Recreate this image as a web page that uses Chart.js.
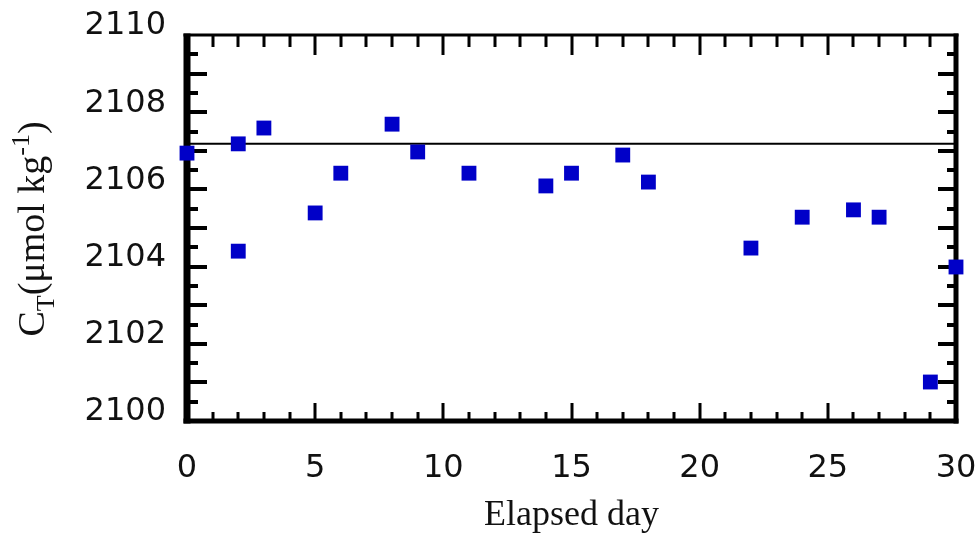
<!DOCTYPE html>
<html>
<head>
<meta charset="utf-8">
<script src="https://cdn.jsdelivr.net/npm/chart.js@4/dist/chart.umd.min.js"></script>
<style>
  html, body { margin: 0; padding: 0; background: #fff; }
  #wrap { width: 977px; height: 540px; }
</style>
</head>
<body>
<div id="wrap"><canvas id="c" width="977" height="540"></canvas></div>
<script>
// Total dissolved inorganic carbon over the incubation period
const days = [0, 2, 2, 3, 5, 6, 8, 9, 11, 14, 15, 17, 18, 22, 24, 26, 27, 29, 30];
const ctValues = [2106.94, 2107.18, 2104.40, 2107.59, 2105.39, 2106.42, 2107.69, 2106.97, 2106.42,
                  2106.09, 2106.42, 2106.89, 2106.19, 2104.48, 2105.28, 2105.47, 2105.28, 2101.01, 2103.99];
const meanCt = 2107.18;
const dayRange = [0, 30];
const ctRange = [2100, 2110];

// Boxed frame with inward major/minor tick marks on all four sides
const framePlugin = {
  id: 'frame',
  beforeDatasetsDraw(chart) {
    const { ctx, chartArea: a, scales: { x, y } } = chart;
    ctx.save();
    ctx.fillStyle = '#000';
    // frame sides
    ctx.fillRect(a.left - 3.5, a.top - 1.5, 7, a.bottom - a.top + 4);
    ctx.fillRect(a.right - 2.5, a.top - 1.5, 5, a.bottom - a.top + 4);
    ctx.fillRect(a.left - 3.5, a.top - 1.5, a.right - a.left + 6, 3);
    ctx.fillRect(a.left - 3.5, a.bottom - 2.5, a.right - a.left + 6, 5);
    // vertical axis ticks every 0.5, longer at whole units
    for (let v = ctRange[0] + 0.5; v < ctRange[1]; v += 0.5) {
      const py = Math.round(y.getPixelForValue(v));
      const major = Math.abs(v - Math.round(v)) < 1e-6;
      const lenL = major ? 20 : 11;
      const lenR = major ? 18 : 9;
      ctx.fillRect(a.left, py - 2, lenL, 4);
      ctx.fillRect(a.right - lenR, py - 2, lenR, 4);
    }
    // horizontal axis ticks every day, longer every 5 days
    for (let d = dayRange[0] + 1; d < dayRange[1]; d++) {
      const px = Math.round(x.getPixelForValue(d));
      const major = d % 5 === 0;
      const lenB = major ? 18 : 9;
      const lenT = major ? 20 : 12;
      ctx.fillRect(px - 1.5, a.bottom - lenB, 3, lenB);
      ctx.fillRect(px - 1.5, a.top, 3, lenT);
    }
    ctx.restore();
  }
};

// Rotated vertical-axis title with subscript and superscript
const yTitlePlugin = {
  id: 'yTitle',
  afterDraw(chart) {
    const { ctx } = chart;
    const mainFont = '38px "Liberation Serif", serif';
    const smallFont = '26px "Liberation Serif", serif';
    const parts = [
      { t: 'C', f: mainFont, dy: 0 },
      { t: 'T', f: smallFont, dy: 10 },
      { t: '(\u03bcmol kg', f: mainFont, dy: 0 },
      { t: '-1', f: smallFont, dy: -15 },
      { t: ')', f: mainFont, dy: 0 }
    ];
    ctx.save();
    let total = 0;
    parts.forEach(p => { ctx.font = p.f; p.w = ctx.measureText(p.t).width; total += p.w; });
    ctx.translate(44, 229);
    ctx.rotate(-Math.PI / 2);
    ctx.fillStyle = '#111';
    ctx.textBaseline = 'alphabetic';
    ctx.textAlign = 'left';
    let cx = -total / 2;
    parts.forEach(p => {
      ctx.font = p.f;
      ctx.fillText(p.t, cx, p.dy);
      cx += p.w;
    });
    ctx.restore();
  }
};

const tickFont = { family: '"DejaVu Sans", sans-serif', size: 32 };
const plainNumber = v => String(v);

new Chart(document.getElementById('c'), {
  type: 'scatter',
  data: {
    datasets: [
      {
        type: 'line',
        data: [{ x: dayRange[0], y: meanCt }, { x: dayRange[1], y: meanCt }],
        borderColor: '#000',
        borderWidth: 2,
        pointRadius: 0,
        order: 2
      },
      {
        data: days.map((d, i) => ({ x: d, y: ctValues[i] })),
        pointStyle: 'rect',
        pointRadius: 10.5,
        backgroundColor: '#0000c8',
        borderWidth: 0,
        clip: false,
        order: 1
      }
    ]
  },
  options: {
    responsive: false,
    animation: false,
    events: [],
    layout: { autoPadding: false, padding: { left: 0, right: 21, top: 35, bottom: 0 } },
    plugins: { legend: { display: false }, tooltip: { enabled: false } },
    scales: {
      x: {
        type: 'linear',
        min: dayRange[0],
        max: dayRange[1],
        grid: { display: false, drawTicks: true, tickLength: 28 },
        border: { display: false },
        ticks: { stepSize: 5, font: tickFont, color: '#111', padding: 0, maxRotation: 0, callback: plainNumber },
        title: {
          display: true,
          text: 'Elapsed day',
          font: { family: '"Liberation Serif", serif', size: 36 },
          color: '#111',
          padding: { top: 0, bottom: 3 }
        },
        afterFit(s) { s.height = 119; }
      },
      y: {
        type: 'linear',
        min: ctRange[0],
        max: ctRange[1],
        grid: { display: false, drawTicks: true, tickLength: 21 },
        border: { display: false },
        ticks: { stepSize: 2, font: tickFont, color: '#111', padding: 0, labelOffset: -9, callback: plainNumber },
        afterFit(s) { s.width = 187; }
      }
    }
  },
  plugins: [framePlugin, yTitlePlugin]
});
</script>
</body>
</html>
